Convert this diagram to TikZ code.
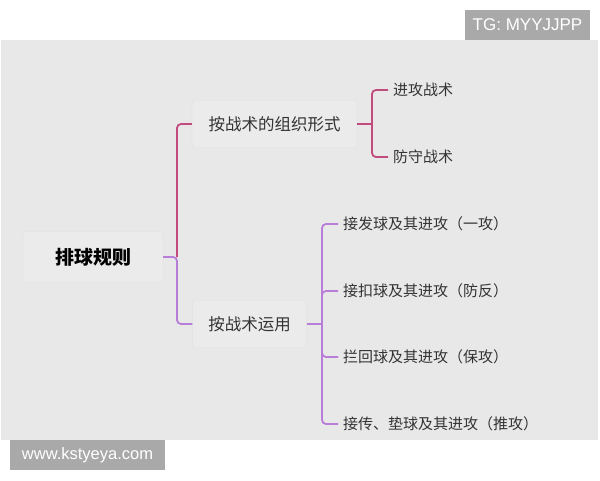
\documentclass[tikz,border=0pt]{standalone}
\usepackage{fontspec}
\setmainfont{Liberation Sans}
\newfontfamily\cjk{Noto Sans CJK SC}
\definecolor{panel}{HTML}{E8E8E8}
\definecolor{boxfill}{HTML}{EBEBEB}
\definecolor{boxline}{HTML}{E0E0E0}
\definecolor{wm}{HTML}{A9A9A9}
\definecolor{redl}{HTML}{C24B7E}
\definecolor{purl}{HTML}{B77DD8}
\definecolor{txt}{HTML}{333333}
\begin{document}
\begin{tikzpicture}[x=1pt,y=-1pt,
  topic/.style={draw=boxline,fill=boxfill,rounded corners=3pt,inner sep=0pt,text=txt,font=\cjk\fontsize{16.5}{18}\selectfont},
  leaf/.style={anchor=west,inner xsep=5pt,inner ysep=2pt,text=txt,font=\cjk\fontsize{15}{17}\selectfont},
  redc/.style={draw=redl,line width=1.8pt,rounded corners=4pt},
  purc/.style={draw=purl,line width=1.8pt,rounded corners=4pt},
  wmbox/.style={fill=wm,text=white,inner sep=0pt}]
\useasboundingbox (0,0) rectangle (600,480);
\fill[white] (0,0) rectangle (600,480);
\fill[panel] (1,40) rectangle (598,440);
\node[wmbox,minimum width=125pt,minimum height=30pt,font=\fontsize{17}{19}\selectfont] (tg) at (527.5,25) {TG: MYYJJPP};
\node[wmbox,minimum width=155pt,minimum height=30pt,font=\fontsize{16.5}{18}\selectfont] (www) at (87.5,455) {www.kstyeya.com};
% nodes
\node[topic,minimum width=140pt,minimum height=51pt,text=black,font=\cjk\bfseries\fontsize{19}{21}\selectfont] (root) at (93,257) {排球规则};
\node[topic,minimum width=165pt,minimum height=47pt] (n1) at (274.5,124) {按战术的组织形式};
\node[topic,minimum width=114pt,minimum height=47pt] (n2) at (249.5,324) {按战术运用};
\node[leaf] (a1) at (388,90) {进攻战术};
\node[leaf] (a2) at (388,157) {防守战术};
\node[leaf] (b1) at (338,224) {接发球及其进攻（一攻）};
\node[leaf] (b2) at (338,291) {接扣球及其进攻（防反）};
\node[leaf] (b3) at (338,357) {拦回球及其进攻（保攻）};
\node[leaf] (b4) at (338,424) {接传、垫球及其进攻（推攻）};
\coordinate (j1) at (177,257);
\coordinate (j2) at (372,124);
\coordinate (j3) at (322,324);
% connectors
\draw[redc] (j1) |- (n1.west);
\draw[purc] (root.east) -- (j1) |- (n2.west);
\draw[redc] (n1.east) -- (j2);
\draw[redc] (j2) |- (a1.west);
\draw[redc] (j2) |- (a2.west);
\draw[purc] (n2.east) -- (j3);
\draw[purc] (j3) |- (b1.west);
\draw[purc] (j3) |- (b2.west);
\draw[purc] (j3) |- (b3.west);
\draw[purc] (j3) |- (b4.west);
\end{tikzpicture}
\end{document}
